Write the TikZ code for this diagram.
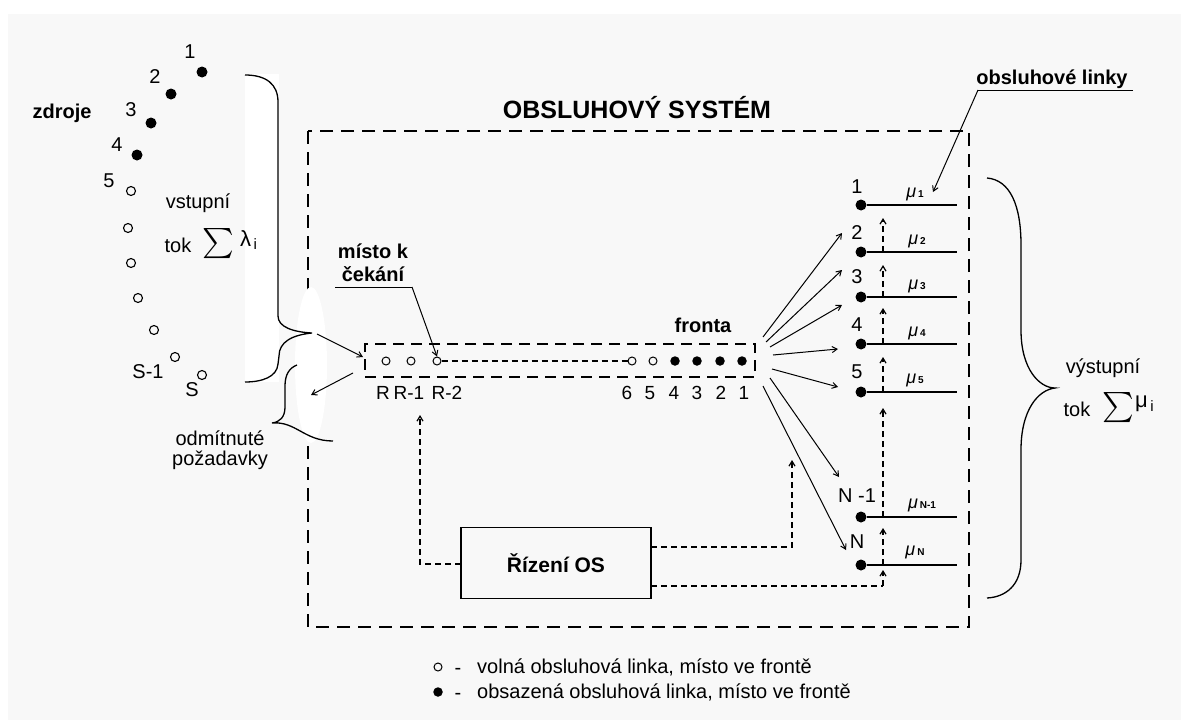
\documentclass[tikz,border=0pt]{standalone}
\usepackage{exscale}
\usepackage{graphicx}
\usepackage{fontspec}
\setmainfont{Liberation Sans}
\usetikzlibrary{arrows.meta,calc}
\definecolor{paper}{HTML}{F8F8F8}
\begin{document}
\begin{tikzpicture}[x=1pt,y=-1pt,
  txt/.style={font=\fontsize{20}{23}\selectfont, inner sep=0},
  stxt/.style={font=\fontsize{19}{22}\selectfont, inner sep=0},
  btxt/.style={font=\bfseries\fontsize{20}{23}\selectfont, inner sep=0},
  mtxt/.style={font=\itshape\fontsize{18}{20}\selectfont, inner sep=0},
  sumsign/.style={inner sep=0, font=\fontsize{20}{23}\selectfont},
  sdot/.style={circle, fill=black, inner sep=0, minimum size=11pt},
  sring/.style={circle, draw, line width=1.1pt, inner sep=0, minimum size=9pt},
  qdot/.style={circle, fill=black, inner sep=0, minimum size=9.5pt},
  qring/.style={circle, draw, line width=1pt, inner sep=0, minimum size=8pt},
  link/.style={line width=1.3pt},
  thin line/.style={line width=1pt},
  arr/.style={-{Straight Barb[length=5pt,width=6pt]}},
  ctl/.style={dash pattern=on 6pt off 4pt, line width=1.2pt},
  bigbox/.style={dash pattern=on 13pt off 8pt, line width=1.5pt},
  qbox/.style={dash pattern=on 11pt off 7pt, line width=1.4pt}
]
\newcommand\mulabel[1]{μ\hspace{2pt}{\upshape\bfseries\fontsize{10}{11}\selectfont #1}}
\newcommand\bigsum{\scalebox{1.45}{$\textstyle\sum$}}
\useasboundingbox (0,0) rectangle (1181,720);
\fill[white] (0,0) rectangle (1181,720);
\fill[paper] (8,14) rectangle (1181,720);
\fill[white] (245,74) rectangle (279,382);

% the service system
\draw[bigbox] (308,131) rectangle (969,627);
\fill[white] (311,365) ellipse [x radius=16, y radius=78];
\node[font=\bfseries\fontsize{25}{28}\selectfont, inner sep=0] (title) at (637,108) {OBSLUHOVÝ SYSTÉM};

% sources
\node[sdot] (src1) at (202,72) {};
\node[sdot] (src2) at (171,94) {};
\node[sdot] (src3) at (151,123) {};
\node[sdot] (src4) at (137,155) {};
\node[sring] (src5) at (131,191) {};
\node[sring] (src6) at (128,228) {};
\node[sring] (src7) at (131,263) {};
\node[sring] (src8) at (138,298) {};
\node[sring] (src9) at (154,330) {};
\node[sring] (src10) at (175,357) {};
\node[sring] (src11) at (202,375) {};
\node[txt] (ls1) at (190,52) {1};
\node[txt] (ls2) at (155,77) {2};
\node[txt] (ls3) at (131,110) {3};
\node[txt] (ls4) at (117,145) {4};
\node[txt] (ls5) at (109,181) {5};
\node[txt] (lsS1) at (148,372) {S-1};
\node[txt] (lsS) at (192,390) {S};
\node[btxt] (zdroje) at (62,113) {zdroje};
\node[txt] (vst) at (198,203) {vstupní};
\node[txt] (vtok) at (178,245) {tok};
\node[sumsign] (vsum) at (218,244) {\bigsum};
\node[inner sep=0, font=\fontsize{22}{24}\selectfont, anchor=west] (vlam) at (240,240) {λ\raisebox{-0.3ex}{\fontsize{15}{16}\selectfont\,i}};

% input brace
\coordinate (intip) at (312,333);
\draw[link] (245,75) .. controls (266,75) and (278,84) .. (278,102) -- (278,316)
  .. controls (278,327) and (293,332) .. (intip)
  .. controls (292,335) and (279,342) .. (279,356) -- (278,364)
  .. controls (277,377) and (262,382) .. (245,382);

% rejected requests brace
\coordinate (rejtip) at (272,423);
\draw[link] (297,365) .. controls (289,368) and (285,375) .. (285,386) -- (285,407)
  .. controls (285,417) and (280,422) .. (rejtip)
  .. controls (296,421) and (304,441) .. (333,441);
\node[txt] (odm) at (220,438) {odmítnuté};
\node[txt] (poz) at (220,460) {požadavky};

% waiting positions
\node[qbox, draw, minimum width=390pt, minimum height=33pt, inner sep=0] (queue) at (560,360.5) {};
\node[qring] (q1) at (386,361) {};
\node[qring] (q2) at (411,361) {};
\node[qring] (q3) at (437,361) {};
\node[qring] (q4) at (632,361) {};
\node[qring] (q5) at (653,361) {};
\node[qdot] (q6) at (675,361) {};
\node[qdot] (q7) at (697,361) {};
\node[qdot] (q8) at (720,361) {};
\node[qdot] (q9) at (742,361) {};
\draw[dash pattern=on 6pt off 4pt, line width=1.1pt] (q3) -- (q4);
\node[stxt] (lq1) at (383,393) {R};
\node[stxt] (lq2) at (409,393) {R-1};
\node[stxt] (lq3) at (447,393) {R-2};
\node[stxt] (lq4) at (627,393) {6};
\node[stxt] (lq5) at (650,393) {5};
\node[stxt] (lq6) at (674,393) {4};
\node[stxt] (lq7) at (697,393) {3};
\node[stxt] (lq8) at (721,393) {2};
\node[stxt] (lq9) at (744,393) {1};
\node[btxt] (fronta) at (703,325) {fronta};
\node[btxt, align=center] (wait) at (373,263) {místo k\\čekání};
\coordinate (wu1) at (335,287);
\coordinate (wu2) at (412,287);
\draw[thin line] (wu1) -- (wu2);
\draw[thin line, arr] (wu2) -- (q3.north);

% arrivals and rejections
\coordinate (qin) at (363,357);
\coordinate (qout) at (353,373);
\coordinate (rejend) at (311,395);
\draw[thin line, arr] ($(intip)+(5,1)$) -- (qin);
\draw[thin line, arr] (qout) -- (rejend);

% service lines
\node[sdot] (s1) at (861,205) {};
\node[sdot] (s2) at (861,252) {};
\node[sdot] (s3) at (861,297) {};
\node[sdot] (s4) at (861,344) {};
\node[sdot] (s5) at (861,392) {};
\node[sdot] (s6) at (861,517) {};
\node[sdot] (s7) at (861,565) {};
\foreach \i/\y in {1/205,2/252,3/297,4/344,5/392,6/517,7/565}{
  \coordinate (e\i) at (957,\y);
  \coordinate (j\i) at (883,\y);
  \draw[link] (s\i) -- (e\i);
}
\node[txt] (ln1) at (857,187) {1};
\node[txt] (ln2) at (857,233) {2};
\node[txt] (ln3) at (857,277) {3};
\node[txt] (ln4) at (857,325) {4};
\node[txt] (ln5) at (857,372) {5};
\node[txt] (ln6) at (857,496) {N -1};
\node[txt] (ln7) at (857,542) {N};
\node[mtxt] (m1) at (915,194) {\mulabel{1}};
\node[mtxt] (m2) at (917,241) {\mulabel{2}};
\node[mtxt] (m3) at (917,286) {\mulabel{3}};
\node[mtxt] (m4) at (917,333) {\mulabel{4}};
\node[mtxt] (m5) at (915,380) {\mulabel{5}};
\node[mtxt] (m6) at (922,505) {\mulabel{N-1}};
\node[mtxt] (m7) at (915,552) {\mulabel{N}};

% label of the service lines
\node[btxt] (linky) at (1052,79) {obsluhové linky};
\coordinate (lk1) at (978,90);
\coordinate (lk2) at (1133,90);
\coordinate (lktip) at (933,192);
\draw[thin line] (lk2) -- (lk1);
\draw[thin line, arr] (lk1) -- (lktip);

% dispatch from the queue to the lines
\foreach \i/\sx/\sy/\tx/\ty in {1/763/337/842/233, 2/766/342/842/270, 3/770/347/842/305,
    4/773/355/838/349, 5/772/369/838/387, 6/770/378/839/477, 7/763/386/846/550}{
  \coordinate (fs\i) at (\sx,\sy);
  \coordinate (ft\i) at (\tx,\ty);
  \draw[thin line, arr] (fs\i) -- (ft\i);
}

% control unit
\node[draw, line width=1.3pt, minimum width=190pt, minimum height=71pt, inner sep=0,
      font=\bfseries\fontsize{21}{24}\selectfont] (ctrl) at (556,563) {Řízení OS};
\coordinate (cw) at (461,564);
\coordinate (ce1) at (651,547);
\coordinate (ce2) at (651,586);
\coordinate (rtip) at (420,415);
\coordinate (ftip) at (792,460);
\coordinate (jb) at (883,586);
\draw[ctl, arr] (cw) -| (rtip);
\draw[ctl, arr] (ce1) -| (ftip);
\draw[ctl] (ce2) -- (jb);
\draw[ctl, arr] (jb) -- ($(j7)+(0,5)$);
\draw[ctl, arr] (j7) -- ($(j6)+(0,11)$);
\draw[ctl, arr] (j6) -- ($(j5)+(0,16)$);
\draw[ctl, arr] (j5) -- ($(j4)+(0,13)$);
\draw[ctl, arr] (j4) -- ($(j3)+(0,11)$);
\draw[ctl, arr] (j3) -- ($(j2)+(0,13)$);
\draw[ctl, arr] (j2) -- ($(j1)+(0,13)$);

% output brace
\coordinate (outtip) at (1055,388);
\draw[link] (987,178) .. controls (1010,180) and (1021,205) .. (1021,245) -- (1021,330)
  .. controls (1021,370) and (1040,388) .. (outtip)
  .. controls (1038,390) and (1021,410) .. (1021,450) -- (1021,560)
  .. controls (1021,585) and (1006,597) .. (987,598);
\node[txt] (vyst) at (1103,368) {výstupní};
\node[txt] (otok) at (1077,409) {tok};
\node[sumsign] (osum) at (1118,408) {\bigsum};
\node[inner sep=0, font=\fontsize{22}{24}\selectfont, anchor=west] (omu) at (1135,404) {μ\raisebox{-0.3ex}{\fontsize{15}{16}\selectfont\,i}};

% legend
\node[qring] (lg1) at (438,667) {};
\node[qdot] (lg2) at (438,692) {};
\node[txt] (lgd1) at (458,671) {-};
\node[txt] (lgd2) at (458,696) {-};
\node[txt, anchor=west] (lgt1) at (477,667) {volná obsluhová linka, místo ve frontě};
\node[txt, anchor=west] (lgt2) at (477,692) {obsazená obsluhová linka, místo ve frontě};
\end{tikzpicture}
\end{document}
